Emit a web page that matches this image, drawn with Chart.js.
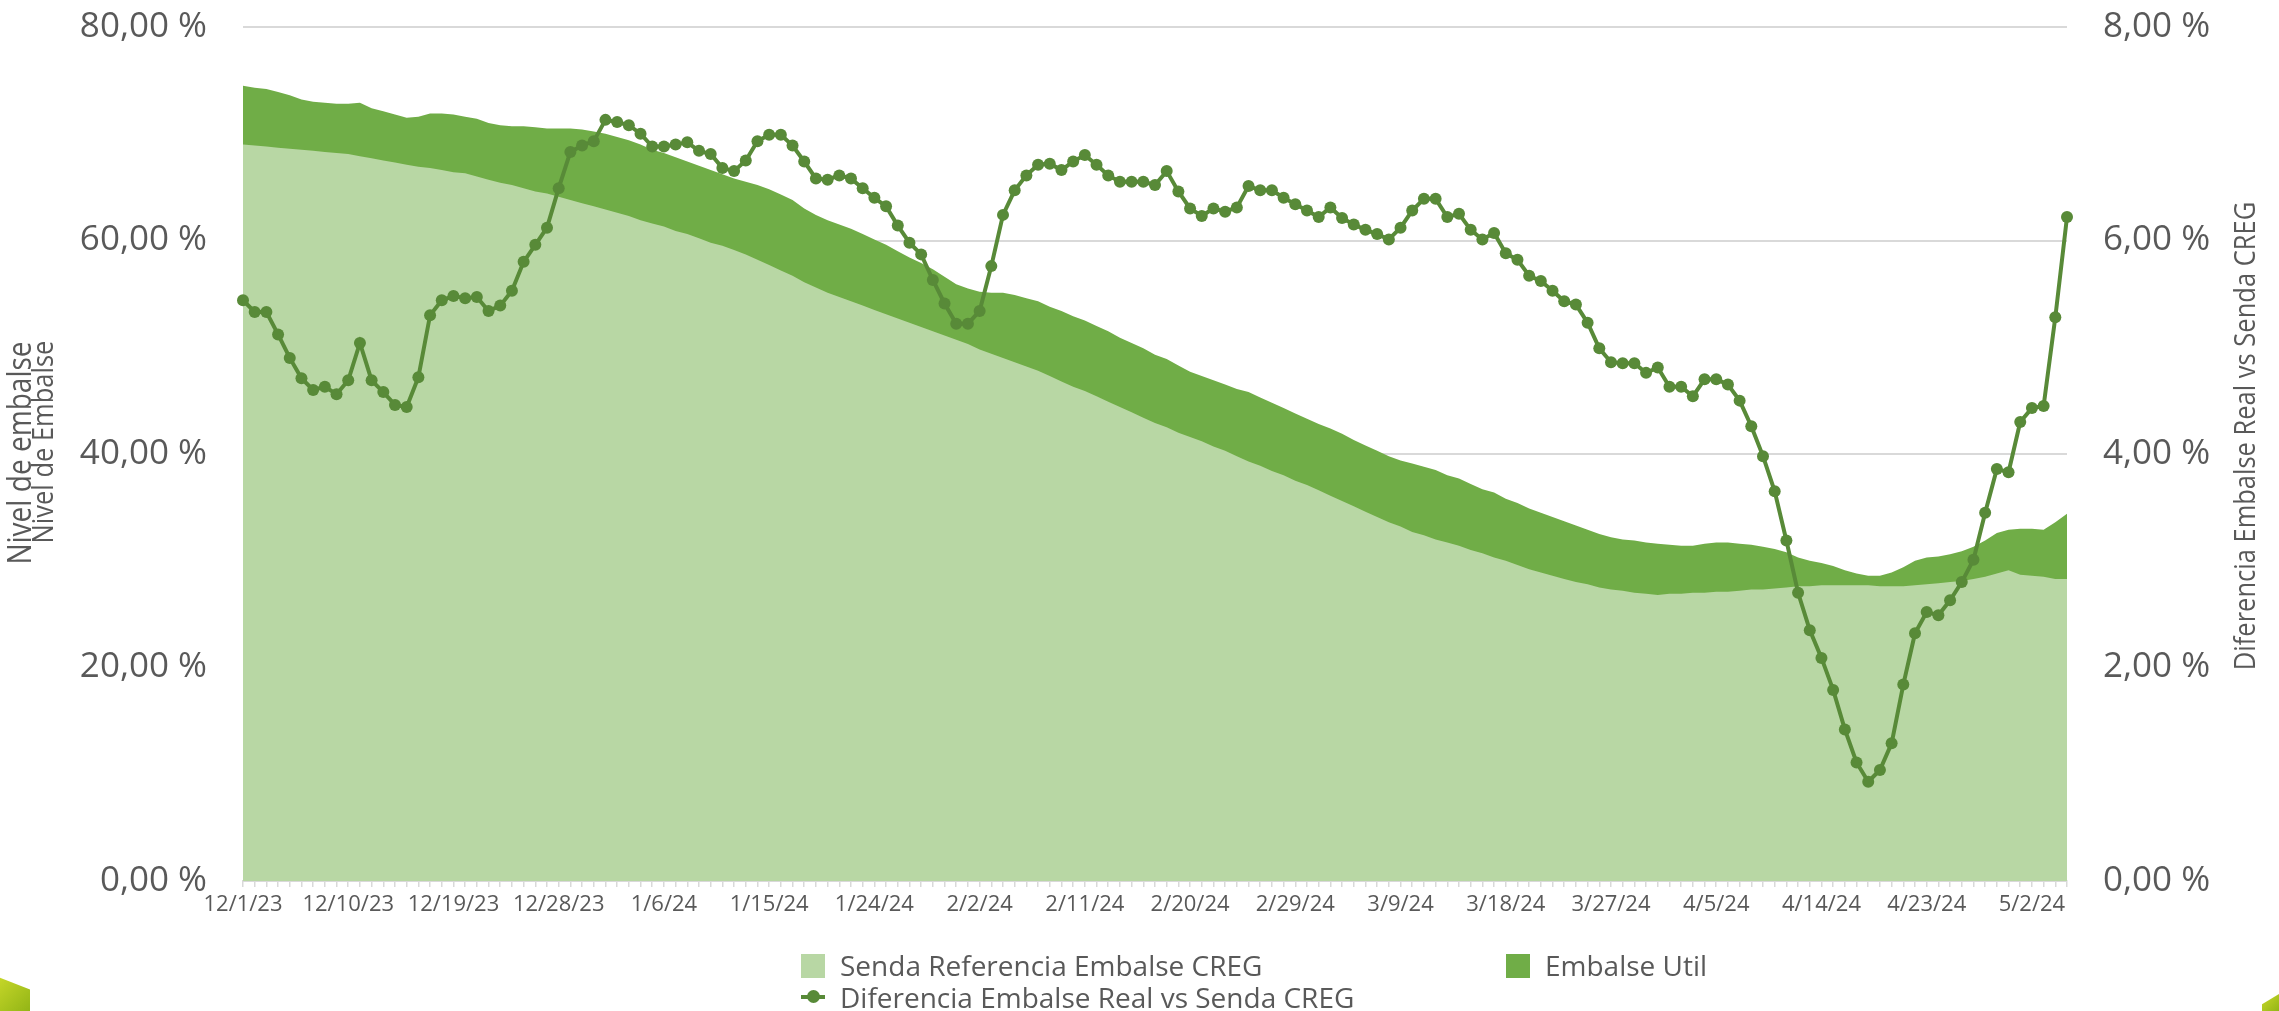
<!DOCTYPE html>
<html>
<head>
<meta charset="utf-8">
<script src="https://cdn.jsdelivr.net/npm/chart.js@4.4.1/dist/chart.umd.min.js"></script>
<style>
	html, body { margin: 0; padding: 0; background: #fff; }
	#wrap { position: relative; width: 2279px; height: 1011px; overflow: hidden; font-family: 'Open Sans', sans-serif; }
	#chart { position: absolute; left: 0; top: 0; }
	.leg { position: absolute; color: #595959; font-size: 28px; line-height: 28px; white-space: nowrap; }
	.box { position: absolute; width: 24px; height: 24px; }
	.mk { position: absolute; width: 24px; height: 12px; }
	.mk::before { content: ''; position: absolute; left: 0; top: 4px; width: 24px; height: 4px; background: #588a38; }
	.mk::after { content: ''; position: absolute; left: 6px; top: -1px; width: 13px; height: 13px; border-radius: 50%; background: #588a38; }
	.deco { position: absolute; background: linear-gradient(135deg, #c9d92a, #93b516); }
</style>
</head>
<body>
<div id="wrap">
	<canvas id="chart" width="2279" height="1011"></canvas>
	<div class="box" style="left:801px;top:954px;background:#b8d7a4"></div>
	<div class="leg" style="left:840px;top:951px">Senda Referencia Embalse CREG</div>
	<div class="box" style="left:1506px;top:954px;background:#70ad47"></div>
	<div class="leg" style="left:1545px;top:951px">Embalse Util</div>
	<div class="mk" style="left:801px;top:991px"></div>
	<div class="leg" style="left:840px;top:983px">Diferencia Embalse Real vs Senda CREG</div>
	<div class="deco" style="left:0;top:972px;width:30px;height:39px;clip-path:polygon(0 15%,100% 45%,100% 100%,0 100%)"></div>
	<div class="deco" style="left:2262px;top:994px;width:17px;height:17px;clip-path:polygon(0 60%,100% 0,100% 100%,0 100%)"></div>
</div>
<script>
// daily data from 12/1/23, tick label every 9 days
const startDate = new Date(2023, 11, 1);
const tickEvery = 9;
const tickLabels = ['12/1/23', '12/10/23', '12/19/23', '12/28/23', '1/6/24', '1/15/24', '1/24/24', '2/2/24', '2/11/24', '2/20/24', '2/29/24', '3/9/24', '3/18/24', '3/27/24', '4/5/24', '4/14/24', '4/23/24', '5/2/24'];

const sendaCreg = [
	69.0, 68.9, 68.8, 68.7, 68.6, 68.5, 68.4, 68.3, 68.2, 68.1,
	67.9, 67.7, 67.5, 67.3, 67.1, 66.9, 66.8, 66.6, 66.4, 66.3,
	66.0, 65.7, 65.4, 65.2, 64.9, 64.6, 64.4, 64.1, 63.8, 63.5,
	63.2, 62.9, 62.6, 62.3, 61.9, 61.6, 61.3, 60.9, 60.6, 60.2,
	59.8, 59.5, 59.1, 58.7, 58.2, 57.7, 57.2, 56.7, 56.1, 55.6,
	55.1, 54.7, 54.3, 53.9, 53.5, 53.1, 52.7, 52.3, 51.9, 51.5,
	51.1, 50.7, 50.3, 49.8, 49.4, 49.0, 48.6, 48.2, 47.8, 47.3,
	46.8, 46.3, 45.9, 45.4, 44.9, 44.4, 43.9, 43.4, 42.9, 42.5,
	42.0, 41.6, 41.2, 40.7, 40.3, 39.8, 39.3, 38.9, 38.4, 38.0,
	37.5, 37.1, 36.6, 36.1, 35.6, 35.1, 34.6, 34.1, 33.6, 33.2,
	32.7, 32.4, 32.0, 31.7, 31.4, 31.0, 30.7, 30.3, 30.0, 29.6,
	29.2, 28.9, 28.6, 28.3, 28.0, 27.8, 27.5, 27.3, 27.2, 27.0,
	26.9, 26.8, 26.9, 26.9, 27.0, 27.0, 27.1, 27.1, 27.2, 27.3,
	27.3, 27.4, 27.5, 27.6, 27.6, 27.7, 27.7, 27.7, 27.7, 27.7,
	27.6, 27.6, 27.6, 27.7, 27.8, 27.9, 28.0, 28.1, 28.3, 28.5,
	28.8, 29.1, 28.7, 28.6, 28.5, 28.3, 28.3,
];

const embalseUtil = [
	74.5, 74.3, 74.2, 73.9, 73.6, 73.2, 73.0, 72.9, 72.8, 72.8,
	72.9, 72.4, 72.1, 71.8, 71.5, 71.6, 71.9, 71.9, 71.8, 71.6,
	71.4, 71.0, 70.8, 70.7, 70.7, 70.6, 70.5, 70.5, 70.5, 70.4,
	70.2, 70.0, 69.7, 69.4, 69.0, 68.5, 68.2, 67.8, 67.4, 67.0,
	66.6, 66.2, 65.8, 65.5, 65.2, 64.8, 64.3, 63.8, 63.0, 62.4,
	61.9, 61.5, 61.1, 60.6, 60.1, 59.6, 59.0, 58.4, 57.9, 57.3,
	56.6, 55.9, 55.5, 55.2, 55.1, 55.1, 54.9, 54.6, 54.3, 53.8,
	53.4, 52.9, 52.5, 52.0, 51.5, 50.9, 50.4, 49.9, 49.3, 48.9,
	48.3, 47.7, 47.3, 46.9, 46.5, 46.1, 45.8, 45.3, 44.8, 44.3,
	43.8, 43.3, 42.8, 42.4, 41.9, 41.3, 40.8, 40.3, 39.8, 39.4,
	39.1, 38.8, 38.5, 38.0, 37.7, 37.2, 36.7, 36.4, 35.8, 35.4,
	34.9, 34.5, 34.1, 33.7, 33.3, 32.9, 32.5, 32.2, 32.0, 31.9,
	31.7, 31.6, 31.5, 31.4, 31.4, 31.6, 31.7, 31.7, 31.6, 31.5,
	31.3, 31.1, 30.8, 30.3, 30.0, 29.8, 29.5, 29.1, 28.8, 28.6,
	28.6, 28.9, 29.4, 30.0, 30.3, 30.4, 30.6, 30.9, 31.3, 31.9,
	32.6, 32.9, 33.0, 33.0, 32.9, 33.6, 34.4,
];

const diferencia = [
	5.44, 5.33, 5.33, 5.12, 4.90, 4.71, 4.60, 4.63, 4.56, 4.69,
	5.04, 4.69, 4.58, 4.46, 4.44, 4.72, 5.30, 5.44, 5.48, 5.46,
	5.47, 5.34, 5.39, 5.53, 5.80, 5.96, 6.12, 6.49, 6.83, 6.89,
	6.93, 7.13, 7.11, 7.08, 7.00, 6.88, 6.88, 6.90, 6.92, 6.84,
	6.81, 6.68, 6.65, 6.75, 6.93, 6.99, 6.99, 6.89, 6.74, 6.58,
	6.57, 6.61, 6.58, 6.49, 6.40, 6.32, 6.14, 5.98, 5.87, 5.63,
	5.41, 5.22, 5.22, 5.34, 5.76, 6.24, 6.47, 6.61, 6.71, 6.72,
	6.66, 6.74, 6.80, 6.71, 6.61, 6.55, 6.55, 6.55, 6.52, 6.65,
	6.46, 6.30, 6.23, 6.30, 6.27, 6.31, 6.51, 6.47, 6.47, 6.40,
	6.34, 6.28, 6.22, 6.31, 6.21, 6.15, 6.10, 6.06, 6.01, 6.12,
	6.28, 6.39, 6.39, 6.22, 6.25, 6.10, 6.01, 6.07, 5.88, 5.82,
	5.67, 5.62, 5.53, 5.43, 5.40, 5.23, 4.99, 4.86, 4.85, 4.85,
	4.76, 4.81, 4.63, 4.63, 4.54, 4.70, 4.70, 4.65, 4.50, 4.26,
	3.98, 3.65, 3.19, 2.70, 2.35, 2.09, 1.79, 1.42, 1.11, 0.93,
	1.04, 1.29, 1.84, 2.32, 2.52, 2.49, 2.63, 2.80, 3.01, 3.45,
	3.86, 3.83, 4.30, 4.43, 4.45, 5.28, 6.22,
];

const categories = sendaCreg.map((v, i) => {
	const d = new Date(startDate);
	d.setDate(d.getDate() + i);
	return `${d.getMonth() + 1}/${d.getDate()}/${String(d.getFullYear()).slice(2)}`;
});

const gray = '#595959';
const gridGray = '#d9d9d9';
const pct = (v) => v.toFixed(2).replace('.', ',') + ' %';

// axis titles, drawn rotated and a bit condensed like the original
const axisTitles = {
	id: 'axisTitles',
	afterDraw(chart) {
		const ctx = chart.ctx;
		const draw = (text, x, y, size) => {
			ctx.save();
			ctx.translate(x, y);
			ctx.rotate(-Math.PI / 2);
			ctx.scale(0.85, 1);
			ctx.font = `${size}px "Open Sans"`;
			ctx.fillStyle = gray;
			ctx.textAlign = 'center';
			ctx.textBaseline = 'middle';
			ctx.fillText(text, 0, 0);
			ctx.restore();
		};
		draw('Nivel de embalse', 22, 453, 33);
		draw('Nivel de Embalse', 44, 442, 30);
		draw('Diferencia Embalse Real vs Senda CREG', 2246, 436, 30);
	},
};

// label gap done with invisible tick marks so the top padding stays small
const yGrid = { color: gridGray, lineWidth: 2, drawTicks: true, tickLength: 36, tickColor: 'rgba(0,0,0,0)' };

new Chart(document.getElementById('chart').getContext('2d'), {
	type: 'line',
	data: {
		labels: categories,
		datasets: [
			{
				label: 'Senda Referencia Embalse CREG',
				data: sendaCreg,
				yAxisID: 'y',
				order: 1,
				fill: 'origin',
				backgroundColor: '#b8d7a4',
				borderWidth: 0,
				pointRadius: 0,
			},
			{
				label: 'Embalse Util',
				data: embalseUtil,
				yAxisID: 'y',
				order: 2,
				fill: 'origin',
				backgroundColor: '#70ad47',
				borderWidth: 0,
				pointRadius: 0,
			},
			{
				label: 'Diferencia Embalse Real vs Senda CREG',
				data: diferencia,
				yAxisID: 'y1',
				order: 0,
				borderColor: '#588a38',
				backgroundColor: '#588a38',
				borderWidth: 4,
				pointRadius: 6,
				pointBorderWidth: 0,
				clip: false,
			},
		],
	},
	options: {
		responsive: false,
		animation: false,
		layout: { padding: { top: 27, bottom: 0, left: 0, right: 0 } },
		plugins: { legend: { display: false }, tooltip: { enabled: false } },
		scales: {
			x: {
				afterFit: (s) => { s.height = 130; },
				grid: { drawOnChartArea: false, drawTicks: true, tickLength: 6, color: gridGray, lineWidth: 1.5 },
				border: { color: gridGray, width: 2 },
				ticks: {
					autoSkip: false,
					maxRotation: 0,
					minRotation: 0,
					padding: 5,
					color: gray,
					font: { family: 'Open Sans', size: 22 },
					callback: (v, i) => (i % tickEvery === 0 ? tickLabels[i / tickEvery] || '' : ''),
				},
			},
			y: {
				position: 'left',
				min: 0,
				max: 80,
				afterFit: (s) => { s.width = 243; },
				grid: yGrid,
				border: { display: false },
				ticks: { stepSize: 20, padding: 0, color: gray, font: { family: 'Open Sans', size: 35 }, callback: pct },
			},
			y1: {
				position: 'right',
				min: 0,
				max: 8,
				afterFit: (s) => { s.width = 212; },
				grid: { drawOnChartArea: false, drawTicks: true, tickLength: 36, tickColor: 'rgba(0,0,0,0)' },
				border: { display: false },
				ticks: { stepSize: 2, padding: 0, color: gray, font: { family: 'Open Sans', size: 35 }, callback: pct },
			},
		},
	},
	plugins: [axisTitles],
});
</script>
</body>
</html>
